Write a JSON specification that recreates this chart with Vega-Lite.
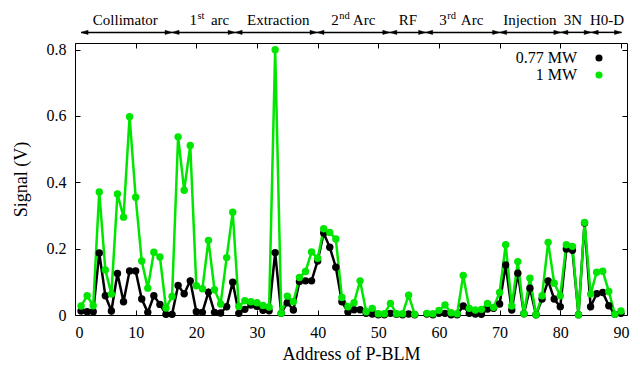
{
  "$schema": "https://vega.github.io/schema/vega-lite/v6.json",
  "width": 552,
  "height": 272,
  "autosize": {"type": "none"},
  "padding": {"left": 75, "top": 43, "right": 13, "bottom": 51},
  "background": "white",
  "config": {
    "view": {"stroke": "black", "strokeWidth": 1},
    "font": "Liberation Serif",
    "axis": {
      "grid": false,
      "domain": false,
      "tickColor": "black",
      "tickSize": -5,
      "tickWidth": 1,
      "labelFont": "Liberation Serif",
      "labelFontSize": 16,
      "labelColor": "black",
      "labelPadding": 14,
      "titleFont": "Liberation Serif",
      "titleFontSize": 18,
      "titleFontWeight": "normal",
      "titleColor": "black"
    },
    "legend": {
      "labelFont": "Liberation Serif",
      "labelFontSize": 16,
      "labelColor": "black"
    }
  },
  "datasets": {
    "sig": [
      {"addr": 1, "beam": "0.77 MW", "signal": 0.012},
      {"addr": 2, "beam": "0.77 MW", "signal": 0.01},
      {"addr": 3, "beam": "0.77 MW", "signal": 0.01},
      {"addr": 4, "beam": "0.77 MW", "signal": 0.187},
      {"addr": 5, "beam": "0.77 MW", "signal": 0.058},
      {"addr": 6, "beam": "0.77 MW", "signal": 0.012},
      {"addr": 7, "beam": "0.77 MW", "signal": 0.125},
      {"addr": 8, "beam": "0.77 MW", "signal": 0.04},
      {"addr": 9, "beam": "0.77 MW", "signal": 0.133},
      {"addr": 10, "beam": "0.77 MW", "signal": 0.133},
      {"addr": 11, "beam": "0.77 MW", "signal": 0.048},
      {"addr": 12, "beam": "0.77 MW", "signal": 0.008},
      {"addr": 13, "beam": "0.77 MW", "signal": 0.058},
      {"addr": 14, "beam": "0.77 MW", "signal": 0.032},
      {"addr": 15, "beam": "0.77 MW", "signal": 0.002},
      {"addr": 16, "beam": "0.77 MW", "signal": 0.002},
      {"addr": 17, "beam": "0.77 MW", "signal": 0.089},
      {"addr": 18, "beam": "0.77 MW", "signal": 0.064},
      {"addr": 19, "beam": "0.77 MW", "signal": 0.103},
      {"addr": 20, "beam": "0.77 MW", "signal": 0.01},
      {"addr": 21, "beam": "0.77 MW", "signal": 0.008},
      {"addr": 22, "beam": "0.77 MW", "signal": 0.069},
      {"addr": 23, "beam": "0.77 MW", "signal": 0.008},
      {"addr": 24, "beam": "0.77 MW", "signal": 0.006},
      {"addr": 25, "beam": "0.77 MW", "signal": 0.025},
      {"addr": 26, "beam": "0.77 MW", "signal": 0.099},
      {"addr": 27, "beam": "0.77 MW", "signal": 0.005},
      {"addr": 28, "beam": "0.77 MW", "signal": 0.017},
      {"addr": 29, "beam": "0.77 MW", "signal": 0.03},
      {"addr": 30, "beam": "0.77 MW", "signal": 0.026},
      {"addr": 31, "beam": "0.77 MW", "signal": 0.014},
      {"addr": 32, "beam": "0.77 MW", "signal": 0.013},
      {"addr": 33, "beam": "0.77 MW", "signal": 0.188},
      {"addr": 34, "beam": "0.77 MW", "signal": 0.005},
      {"addr": 35, "beam": "0.77 MW", "signal": 0.037},
      {"addr": 36, "beam": "0.77 MW", "signal": 0.015},
      {"addr": 37, "beam": "0.77 MW", "signal": 0.101},
      {"addr": 38, "beam": "0.77 MW", "signal": 0.103},
      {"addr": 39, "beam": "0.77 MW", "signal": 0.103},
      {"addr": 40, "beam": "0.77 MW", "signal": 0.163},
      {"addr": 41, "beam": "0.77 MW", "signal": 0.247},
      {"addr": 42, "beam": "0.77 MW", "signal": 0.204},
      {"addr": 43, "beam": "0.77 MW", "signal": 0.144},
      {"addr": 44, "beam": "0.77 MW", "signal": 0.04},
      {"addr": 45, "beam": "0.77 MW", "signal": 0.009},
      {"addr": 46, "beam": "0.77 MW", "signal": 0.016},
      {"addr": 47, "beam": "0.77 MW", "signal": 0.016},
      {"addr": 48, "beam": "0.77 MW", "signal": 0.005},
      {"addr": 49, "beam": "0.77 MW", "signal": 0.003},
      {"addr": 50, "beam": "0.77 MW", "signal": 0.001},
      {"addr": 51, "beam": "0.77 MW", "signal": 0.001},
      {"addr": 52, "beam": "0.77 MW", "signal": 0.005},
      {"addr": 53, "beam": "0.77 MW", "signal": 0.002},
      {"addr": 54, "beam": "0.77 MW", "signal": 0.001},
      {"addr": 55, "beam": "0.77 MW", "signal": 0.003},
      {"addr": 56, "beam": "0.77 MW", "signal": 0.001},
      {"addr": 57, "beam": "0.77 MW", "signal": null},
      {"addr": 58, "beam": "0.77 MW", "signal": 0.003},
      {"addr": 59, "beam": "0.77 MW", "signal": 0.001},
      {"addr": 60, "beam": "0.77 MW", "signal": 0.005},
      {"addr": 61, "beam": "0.77 MW", "signal": 0.005},
      {"addr": 62, "beam": "0.77 MW", "signal": 0.001},
      {"addr": 63, "beam": "0.77 MW", "signal": 0.001},
      {"addr": 64, "beam": "0.77 MW", "signal": 0.027},
      {"addr": 65, "beam": "0.77 MW", "signal": 0.005},
      {"addr": 66, "beam": "0.77 MW", "signal": 0.003},
      {"addr": 67, "beam": "0.77 MW", "signal": 0.002},
      {"addr": 68, "beam": "0.77 MW", "signal": 0.018},
      {"addr": 69, "beam": "0.77 MW", "signal": 0.02},
      {"addr": 70, "beam": "0.77 MW", "signal": 0.033},
      {"addr": 71, "beam": "0.77 MW", "signal": 0.151},
      {"addr": 72, "beam": "0.77 MW", "signal": 0.015},
      {"addr": 73, "beam": "0.77 MW", "signal": 0.126},
      {"addr": 74, "beam": "0.77 MW", "signal": 0.004},
      {"addr": 75, "beam": "0.77 MW", "signal": 0.081},
      {"addr": 76, "beam": "0.77 MW", "signal": 0.001},
      {"addr": 77, "beam": "0.77 MW", "signal": 0.048},
      {"addr": 78, "beam": "0.77 MW", "signal": 0.103},
      {"addr": 79, "beam": "0.77 MW", "signal": 0.048},
      {"addr": 80, "beam": "0.77 MW", "signal": 0.025},
      {"addr": 81, "beam": "0.77 MW", "signal": 0.199},
      {"addr": 82, "beam": "0.77 MW", "signal": 0.195},
      {"addr": 83, "beam": "0.77 MW", "signal": 0.001},
      {"addr": 84, "beam": "0.77 MW", "signal": 0.277},
      {"addr": 85, "beam": "0.77 MW", "signal": 0.025},
      {"addr": 86, "beam": "0.77 MW", "signal": 0.064},
      {"addr": 87, "beam": "0.77 MW", "signal": 0.068},
      {"addr": 88, "beam": "0.77 MW", "signal": 0.028},
      {"addr": 89, "beam": "0.77 MW", "signal": 0.002},
      {"addr": 90, "beam": "0.77 MW", "signal": 0.005},
      {"addr": 1, "beam": "1 MW", "signal": 0.027},
      {"addr": 2, "beam": "1 MW", "signal": 0.058},
      {"addr": 3, "beam": "1 MW", "signal": 0.028},
      {"addr": 4, "beam": "1 MW", "signal": 0.371},
      {"addr": 5, "beam": "1 MW", "signal": 0.136},
      {"addr": 6, "beam": "1 MW", "signal": 0.063},
      {"addr": 7, "beam": "1 MW", "signal": 0.365},
      {"addr": 8, "beam": "1 MW", "signal": 0.295},
      {"addr": 9, "beam": "1 MW", "signal": 0.598},
      {"addr": 10, "beam": "1 MW", "signal": 0.355},
      {"addr": 11, "beam": "1 MW", "signal": 0.163},
      {"addr": 12, "beam": "1 MW", "signal": 0.081},
      {"addr": 13, "beam": "1 MW", "signal": 0.189},
      {"addr": 14, "beam": "1 MW", "signal": 0.175},
      {"addr": 15, "beam": "1 MW", "signal": 0.021},
      {"addr": 16, "beam": "1 MW", "signal": 0.056},
      {"addr": 17, "beam": "1 MW", "signal": 0.537},
      {"addr": 18, "beam": "1 MW", "signal": 0.376},
      {"addr": 19, "beam": "1 MW", "signal": 0.511},
      {"addr": 20, "beam": "1 MW", "signal": 0.088},
      {"addr": 21, "beam": "1 MW", "signal": 0.079},
      {"addr": 22, "beam": "1 MW", "signal": 0.225},
      {"addr": 23, "beam": "1 MW", "signal": 0.076},
      {"addr": 24, "beam": "1 MW", "signal": 0.033},
      {"addr": 25, "beam": "1 MW", "signal": 0.173},
      {"addr": 26, "beam": "1 MW", "signal": 0.31},
      {"addr": 27, "beam": "1 MW", "signal": 0.026},
      {"addr": 28, "beam": "1 MW", "signal": 0.043},
      {"addr": 29, "beam": "1 MW", "signal": 0.04},
      {"addr": 30, "beam": "1 MW", "signal": 0.037},
      {"addr": 31, "beam": "1 MW", "signal": 0.029},
      {"addr": 32, "beam": "1 MW", "signal": 0.024},
      {"addr": 33, "beam": "1 MW", "signal": 0.8},
      {"addr": 34, "beam": "1 MW", "signal": 0.005},
      {"addr": 35, "beam": "1 MW", "signal": 0.057},
      {"addr": 36, "beam": "1 MW", "signal": 0.04},
      {"addr": 37, "beam": "1 MW", "signal": 0.113},
      {"addr": 38, "beam": "1 MW", "signal": 0.131},
      {"addr": 39, "beam": "1 MW", "signal": 0.19},
      {"addr": 40, "beam": "1 MW", "signal": 0.171},
      {"addr": 41, "beam": "1 MW", "signal": 0.26},
      {"addr": 42, "beam": "1 MW", "signal": 0.249},
      {"addr": 43, "beam": "1 MW", "signal": 0.229},
      {"addr": 44, "beam": "1 MW", "signal": 0.053},
      {"addr": 45, "beam": "1 MW", "signal": 0.025},
      {"addr": 46, "beam": "1 MW", "signal": 0.037},
      {"addr": 47, "beam": "1 MW", "signal": 0.103},
      {"addr": 48, "beam": "1 MW", "signal": 0.01},
      {"addr": 49, "beam": "1 MW", "signal": 0.02},
      {"addr": 50, "beam": "1 MW", "signal": 0.004},
      {"addr": 51, "beam": "1 MW", "signal": 0.004},
      {"addr": 52, "beam": "1 MW", "signal": 0.035},
      {"addr": 53, "beam": "1 MW", "signal": 0.004},
      {"addr": 54, "beam": "1 MW", "signal": 0.004},
      {"addr": 55, "beam": "1 MW", "signal": 0.06},
      {"addr": 56, "beam": "1 MW", "signal": 0.002},
      {"addr": 57, "beam": "1 MW", "signal": null},
      {"addr": 58, "beam": "1 MW", "signal": 0.005},
      {"addr": 59, "beam": "1 MW", "signal": 0.004},
      {"addr": 60, "beam": "1 MW", "signal": 0.014},
      {"addr": 61, "beam": "1 MW", "signal": 0.03},
      {"addr": 62, "beam": "1 MW", "signal": 0.007},
      {"addr": 63, "beam": "1 MW", "signal": 0.004},
      {"addr": 64, "beam": "1 MW", "signal": 0.119},
      {"addr": 65, "beam": "1 MW", "signal": 0.02},
      {"addr": 66, "beam": "1 MW", "signal": 0.015},
      {"addr": 67, "beam": "1 MW", "signal": 0.017},
      {"addr": 68, "beam": "1 MW", "signal": 0.035},
      {"addr": 69, "beam": "1 MW", "signal": 0.023},
      {"addr": 70, "beam": "1 MW", "signal": 0.068},
      {"addr": 71, "beam": "1 MW", "signal": 0.212},
      {"addr": 72, "beam": "1 MW", "signal": 0.027},
      {"addr": 73, "beam": "1 MW", "signal": 0.161},
      {"addr": 74, "beam": "1 MW", "signal": 0.004},
      {"addr": 75, "beam": "1 MW", "signal": 0.111},
      {"addr": 76, "beam": "1 MW", "signal": 0.001},
      {"addr": 77, "beam": "1 MW", "signal": 0.058},
      {"addr": 78, "beam": "1 MW", "signal": 0.219},
      {"addr": 79, "beam": "1 MW", "signal": 0.096},
      {"addr": 80, "beam": "1 MW", "signal": 0.058},
      {"addr": 81, "beam": "1 MW", "signal": 0.212},
      {"addr": 82, "beam": "1 MW", "signal": 0.207},
      {"addr": 83, "beam": "1 MW", "signal": 0.001},
      {"addr": 84, "beam": "1 MW", "signal": 0.279},
      {"addr": 85, "beam": "1 MW", "signal": 0.063},
      {"addr": 86, "beam": "1 MW", "signal": 0.129},
      {"addr": 87, "beam": "1 MW", "signal": 0.132},
      {"addr": 88, "beam": "1 MW", "signal": 0.071},
      {"addr": 89, "beam": "1 MW", "signal": 0.002},
      {"addr": 90, "beam": "1 MW", "signal": 0.012}
    ],
    "sections": [
      {"name": "Collimator", "from": 1, "to": 16, "at": 8.3},
      {"name": "1st arc", "from": 16, "to": 26.4, "at": 21.9},
      {"name": "Extraction", "from": 26.4, "to": 39.9, "at": 33.5},
      {"name": "2nd Arc", "from": 39.9, "to": 51.9, "at": 46},
      {"name": "RF", "from": 51.9, "to": 57.8, "at": 54.9},
      {"name": "3rd Arc", "from": 57.8, "to": 70, "at": 63.8},
      {"name": "Injection", "from": 70, "to": 80.1, "at": 75},
      {"name": "3N", "from": 80.1, "to": 85.1, "at": 82.1},
      {"name": "H0-D", "from": 85.1, "to": 90.1, "at": 87.7}
    ],
    "plainLabels": [
      {"name": "Collimator", "at": 8.3},
      {"name": "Extraction", "at": 33.5},
      {"name": "RF", "at": 54.9},
      {"name": "Injection", "at": 75},
      {"name": "3N", "at": 82.1},
      {"name": "H0-D", "at": 87.7}
    ],
    "supLabels": [
      {"pre": "1", "sup": "st", "post": "arc", "at": 20.1},
      {"pre": "2", "sup": "nd", "post": "Arc", "at": 43.5},
      {"pre": "3", "sup": "rd", "post": "Arc", "at": 61.3}
    ]
  },
  "resolve": {"axis": {"x": "independent", "y": "independent"}},
  "layer": [
    {
      "data": {"name": "sig"},
      "mark": {"type": "line", "strokeWidth": 2.5, "point": {"size": 55, "filled": true, "opacity": 1}},
      "encoding": {
        "x": {
          "field": "addr", "type": "quantitative",
          "scale": {"domain": [0, 91], "nice": false, "zero": false},
          "axis": {"orient": "bottom", "values": [0, 10, 20, 30, 40, 50, 60, 70, 80, 90], "title": "Address of P-BLM", "titlePadding": 5}
        },
        "y": {
          "field": "signal", "type": "quantitative",
          "scale": {"domain": [0, 0.82], "nice": false, "zero": true},
          "axis": {"orient": "left", "values": [0, 0.2, 0.4, 0.6, 0.8], "format": ".1~f", "title": "Signal (V)", "titlePadding": 16}
        },
        "color": {
          "field": "beam", "type": "nominal",
          "scale": {"domain": ["0.77 MW", "1 MW"], "range": ["#000000", "#00e600"]},
          "legend": {
            "title": null,
            "orient": "none",
            "legendX": 516,
            "legendY": 7,
            "padding": 0,
            "symbolType": "circle",
            "symbolSize": 50,
            "symbolStrokeWidth": 0,
            "labelAlign": "right",
            "labelOffset": -30,
            "rowPadding": 1
          }
        }
      }
    },
    {
      "data": {"name": "sections"},
      "mark": {"type": "rule", "stroke": "black", "strokeWidth": 1.5},
      "encoding": {
        "x": {
          "field": "from", "type": "quantitative",
          "scale": {"domain": [0, 91], "nice": false, "zero": false},
          "axis": {"orient": "top", "values": [0, 10, 20, 30, 40, 50, 60, 70, 80, 90], "labels": false, "title": null}
        },
        "x2": {"field": "to"},
        "y": {
          "datum": 0.852, "type": "quantitative",
          "scale": {"domain": [0, 0.82], "nice": false, "zero": true},
          "axis": {"orient": "right", "values": [0, 0.2, 0.4, 0.6, 0.8], "labels": false, "title": null}
        }
      }
    },
    {
      "data": {"name": "sections"},
      "mark": {"type": "point", "shape": "M 0 0 L 2 -0.6 L 2 0.6 Z", "filled": true, "fill": "black", "stroke": "black", "strokeWidth": 0.5, "opacity": 1, "size": 49},
      "encoding": {
        "x": {"field": "from", "type": "quantitative", "scale": {"domain": [0, 91], "nice": false, "zero": false}, "axis": null},
        "y": {"datum": 0.852, "type": "quantitative", "scale": {"domain": [0, 0.82], "nice": false, "zero": true}, "axis": null}
      }
    },
    {
      "data": {"name": "sections"},
      "mark": {"type": "point", "shape": "M 0 0 L -2 -0.6 L -2 0.6 Z", "filled": true, "fill": "black", "stroke": "black", "strokeWidth": 0.5, "opacity": 1, "size": 49},
      "encoding": {
        "x": {"field": "to", "type": "quantitative", "scale": {"domain": [0, 91], "nice": false, "zero": false}, "axis": null},
        "y": {"datum": 0.852, "type": "quantitative", "scale": {"domain": [0, 0.82], "nice": false, "zero": true}, "axis": null}
      }
    },
    {
      "data": {"name": "plainLabels"},
      "mark": {"type": "text", "font": "Liberation Serif", "fontSize": 15, "color": "black", "align": "center", "baseline": "alphabetic"},
      "encoding": {
        "x": {"field": "at", "type": "quantitative", "scale": {"domain": [0, 91], "nice": false, "zero": false}, "axis": null},
        "y": {"datum": 0.874, "type": "quantitative", "scale": {"domain": [0, 0.82], "nice": false, "zero": true}, "axis": null},
        "text": {"field": "name"}
      }
    },
    {
      "data": {"name": "supLabels"},
      "mark": {"type": "text", "font": "Liberation Serif", "fontSize": 15, "color": "black", "align": "right", "baseline": "alphabetic"},
      "encoding": {
        "x": {"field": "at", "type": "quantitative", "scale": {"domain": [0, 91], "nice": false, "zero": false}, "axis": null},
        "y": {"datum": 0.874, "type": "quantitative", "scale": {"domain": [0, 0.82], "nice": false, "zero": true}, "axis": null},
        "text": {"field": "pre"}
      }
    },
    {
      "data": {"name": "supLabels"},
      "mark": {"type": "text", "font": "Liberation Serif", "fontSize": 10.5, "color": "black", "align": "left", "baseline": "alphabetic", "dy": -6, "dx": 0.5},
      "encoding": {
        "x": {"field": "at", "type": "quantitative", "scale": {"domain": [0, 91], "nice": false, "zero": false}, "axis": null},
        "y": {"datum": 0.874, "type": "quantitative", "scale": {"domain": [0, 0.82], "nice": false, "zero": true}, "axis": null},
        "text": {"field": "sup"}
      }
    },
    {
      "data": {"name": "supLabels"},
      "mark": {"type": "text", "font": "Liberation Serif", "fontSize": 15, "color": "black", "align": "left", "baseline": "alphabetic", "dx": 14},
      "encoding": {
        "x": {"field": "at", "type": "quantitative", "scale": {"domain": [0, 91], "nice": false, "zero": false}, "axis": null},
        "y": {"datum": 0.874, "type": "quantitative", "scale": {"domain": [0, 0.82], "nice": false, "zero": true}, "axis": null},
        "text": {"field": "post"}
      }
    }
  ]
}
